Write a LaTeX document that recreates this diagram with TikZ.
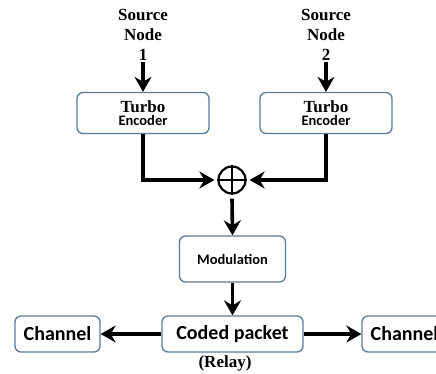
\documentclass[tikz,border=0pt]{standalone}
\usepackage{fontspec}
\setmainfont{Liberation Serif}
\newfontfamily\calfont{Carlito}
\usetikzlibrary{arrows.meta}
\definecolor{boxline}{HTML}{5B7B98}
\tikzset{
  px/.style={x=1pt,y=-1pt},
  blk/.style={draw=boxline,line width=1.3pt,rounded corners=6pt,fill=white,inner sep=0pt},
  arr/.style={line width=3.6pt,-{Stealth[length=15pt,width=17pt,inset=5pt]}},
  srctxt/.style={font=\fontsize{17}{20}\selectfont\bfseries,align=center,inner sep=1pt},
  enc/.style={blk,minimum width=132pt,minimum height=41pt,align=center},
}
\newcommand{\enctext}{{\fontsize{17}{15}\selectfont\bfseries Turbo}\\[1pt]{\calfont\fontsize{14.5}{14}\selectfont\bfseries Encoder}}
\begin{document}
\begin{tikzpicture}[px]
\useasboundingbox (0,0) rectangle (436,374);
\clip (0,0) rectangle (436,374);
% source labels
\node[srctxt] (s1) at (143,35) {Source\\Node\\1};
\node[srctxt] (s2) at (326,35) {Source\\Node\\2};
% encoders
\node[enc] (tb1) at (143,113) {\enctext};
\node[enc] (tb2) at (326,113) {\enctext};
% xor
\node[circle,draw,line width=2.2pt,minimum size=27pt,inner sep=0pt] (x) at (232,180) {};
\draw[line width=2.2pt] (x.north) -- (x.south) (x.west) -- (x.east);
% modulation etc
\node[blk,minimum width=106pt,minimum height=46pt,font=\calfont\fontsize{14.5}{14}\selectfont\bfseries] (mod) at (232.5,259) {Modulation};
\node[blk,minimum width=141pt,minimum height=36pt,font=\calfont\fontsize{20}{20}\selectfont\bfseries] (cp) at (232.5,334) {Coded packet};
\node[blk,minimum width=85pt,minimum height=36pt,font=\calfont\fontsize{20}{20}\selectfont\bfseries] (ch1) at (57.5,334) {Channel};
\node[blk,minimum width=85pt,minimum height=36pt,font=\calfont\fontsize{20}{20}\selectfont\bfseries] (ch2) at (404.5,334) {Channel};
\node[font=\fontsize{17}{17}\selectfont\bfseries] (rl) at (225,363) {(Relay)};
% connectors
\draw[arr] (s1.south) -- (tb1.north);
\draw[arr] (s2.south) -- (tb2.north);
\draw[arr] (tb1.south) |- ([xshift=-3pt]x.west);
\draw[arr] (tb2.south) |- ([xshift=3pt]x.east);
\draw[arr] ([yshift=-4pt]x.south) -- (mod.north);
\draw[arr] (mod.south) -- (cp.north);
\draw[arr] (cp.west) -- (ch1.east);
\draw[arr] (cp.east) -- (ch2.west);
\end{tikzpicture}
\end{document}
